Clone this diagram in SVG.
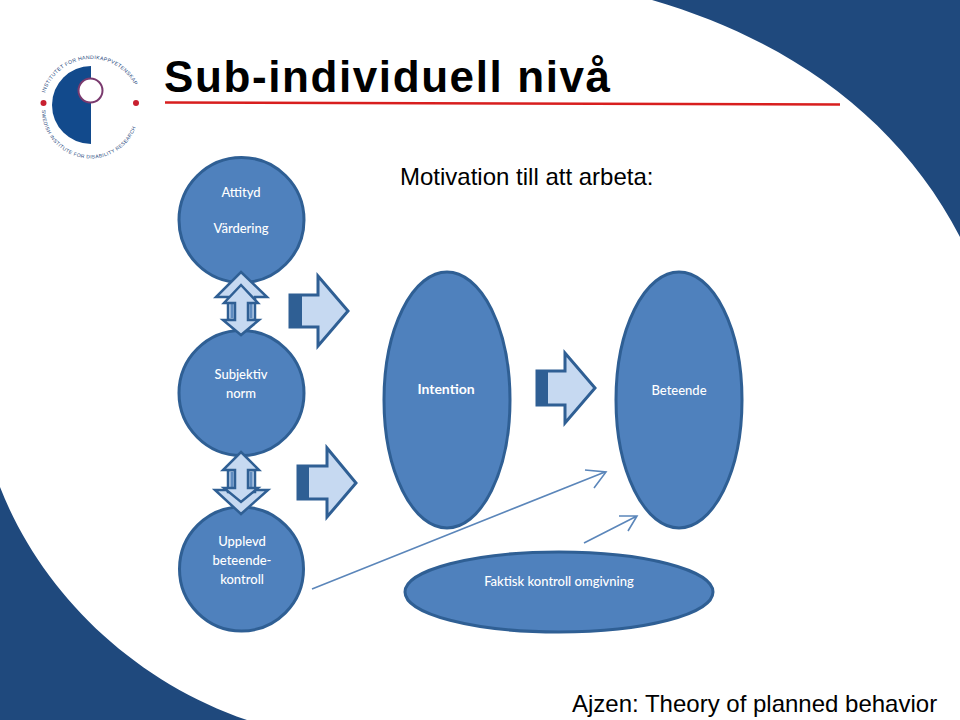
<svg xmlns="http://www.w3.org/2000/svg" width="960" height="720" viewBox="0 0 960 720">
<style>
.bg{fill:#1f497d}
.n{fill:#4f81bd;stroke:#2f5f94;stroke-width:3}
.a{fill:#c6d9f1;stroke:#2f5f94;stroke-width:3;stroke-linejoin:miter}
.a2{fill:#c6d9f1;stroke:#2f5f94;stroke-width:2.500;stroke-linejoin:miter}
.d{fill:#2f5f94}
.s{fill:#5f8cc0}
.t{font-family:"Lato","Open Sans",sans-serif;font-size:13px;fill:#fff;text-anchor:middle;font-weight:500}
.h{font-family:"Liberation Sans",Arial,sans-serif;fill:#000}
.l{fill:none;stroke:#5b86ba;stroke-width:1.6}
.lg{font-family:"Liberation Sans",Arial,sans-serif;font-size:5.200px;fill:#1f497d;letter-spacing:.3px}
.lb{font-size:5px;letter-spacing:.35px}
</style>
<rect width="960" height="720" fill="#fff"/>
<path class="bg" d="M652 0C790 40 900 120 960 237V0Z"/>
<path class="bg" d="M0 487C40 590 130 680 247 720H0Z"/>
<g id="logo">
<defs>
<path id="lt" d="M45 93A48.800 48.800 0 0 1 138 93"/>
<path id="lb" d="M42 110A48.500 48.500 0 0 0 139 110"/>
</defs>
<path d="M91 66A39 39 0 0 0 91 144Z" fill="#124a8c"/>
<circle cx="90.500" cy="90.500" r="12" fill="#fff" stroke="#7a3a6e" stroke-width="2"/>
<circle cx="43.500" cy="103" r="3" fill="#c8202f"/>
<circle cx="136" cy="103" r="3" fill="#c8202f"/>
<text class="lg"><textPath href="#lt">INSTITUTET FOR HANDIKAPPVETENSKAP</textPath></text>
<text class="lg lb"><textPath href="#lb">SWEDISH INSTITUTE FOR DISABILITY RESEARCH</textPath></text>
</g>
<g id="title">
<text class="h" x="164" y="92" font-size="44" font-weight="700" letter-spacing="1.600">Sub-individuell nivå</text>
<path d="M165 102.500L840 104.500" stroke="#d81e1e" stroke-width="2.500" fill="none"/>
</g>
<text id="subtitle" class="h" x="400" y="185" font-size="24">Motivation till att arbeta:</text>
<text id="credit" class="h" x="572" y="712" font-size="24">Ajzen: Theory of planned behavior</text>
<g id="connectors">
<path class="l" d="M312 589L605 472M585 470L606 472L594 488"/>
<path class="l" d="M584 543L637 516M619 516L637 516L628 531"/>
</g>
<g id="attityd"><circle class="n" cx="241.500" cy="220" r="62.500"/><text class="t" x="241" y="197">Attityd</text><text class="t" x="241" y="233">Värdering</text></g>
<g id="subjektiv"><circle class="n" cx="241.500" cy="393" r="62.500"/><text class="t" x="241" y="379">Subjektiv</text><text class="t" x="241" y="398">norm</text></g>
<g id="upplevd"><circle class="n" cx="241.500" cy="569" r="62"/><text class="t" x="242" y="546">Upplevd</text><text class="t" x="242" y="565">beteende-</text><text class="t" x="242" y="584">kontroll</text></g>
<g id="intention"><ellipse class="n" cx="447" cy="400" rx="63" ry="128"/><text class="t" x="446" y="394" style="font-size:14px;font-weight:700">Intention</text></g>
<g id="beteende"><ellipse class="n" cx="679" cy="400" rx="63" ry="128"/><text class="t" x="679" y="395">Beteende</text></g>
<g id="faktisk"><ellipse class="n" cx="559" cy="592" rx="154" ry="40"/><text class="t" x="559" y="586">Faktisk kontroll omgivning</text></g>
<g id="arrow-top">
<path class="a2" d="M241 272L267 297H255V320H228V297H216Z"/>
<path class="s" d="M230.500 301h3v17h-3zM249.500 301h3v17h-3z"/>
<path class="a2" d="M241 285L258 303H248V320H259L241 335L223 320H235V303H224Z"/>
</g>
<g id="arrow-bottom">
<path class="a2" d="M241 490H268L241 514L215 490Z"/>
<path class="a2" d="M228 470H255V492H228Z"/>
<path class="s" d="M230.500 472h3v17h-3zM249.500 472h3v17h-3z"/>
<path class="a2" d="M241 452L259 470H248V488H258L241 502L224 488H235V470H223Z"/>
</g>
<g id="arrow-r1"><path class="a" d="M290 295H318V276L348 311L318 346V327H290Z"/><rect class="d" x="290" y="294" width="12" height="34"/></g>
<g id="arrow-r2"><path class="a" d="M298 466H327V448L356 483L327 517V499H298Z"/><rect class="d" x="297" y="465" width="12" height="35"/></g>
<g id="arrow-r3"><path class="a" d="M537 371H565V353L595 388L565 423V405H537Z"/><rect class="d" x="536" y="370" width="12" height="36"/></g>
</svg>
